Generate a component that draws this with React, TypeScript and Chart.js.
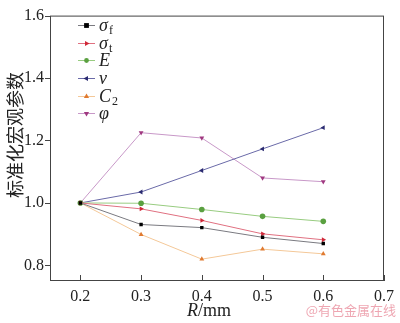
import React, { useEffect, useRef } from "react";
import { Chart, registerables } from "chart.js";

Chart.register(...registerables);

const radii = [0.2, 0.3, 0.4, 0.5, 0.6];
const xTicks = [0.2, 0.3, 0.4, 0.5, 0.6, 0.7];
const yTicks = [0.8, 1.0, 1.2, 1.4, 1.6];

const sigmaF = [1.0, 0.931, 0.921, 0.89, 0.87];
const sigmaT = [1.0, 0.981, 0.944, 0.901, 0.882];
const modulusE = [1.0, 0.999, 0.979, 0.957, 0.941];
const poissonV = [1.0, 1.035, 1.104, 1.173, 1.241];
const cohesionC2 = [1.0, 0.899, 0.82, 0.852, 0.837];
const frictionPhi = [1.0, 1.225, 1.208, 1.08, 1.068];

const seriesNames = ["σf", "σt", "E", "v", "C2", "φ"];

const SERIF = "'Liberation Serif', 'DejaVu Serif', serif";

type SeriesDef = {
  data: number[];
  point: string;
  line: string;
  style: any;
  rotation: number;
  main: string;
  sub: string;
};

const series: SeriesDef[] = [
  { data: sigmaF, point: "#000000", line: "#7a7a80", style: "rect", rotation: 0, main: "σ", sub: "f" },
  { data: sigmaT, point: "#d02838", line: "#e07080", style: "triangle", rotation: 90, main: "σ", sub: "t" },
  { data: modulusE, point: "#5aa040", line: "#98cc80", style: "circle", rotation: 0, main: "E", sub: "" },
  { data: poissonV, point: "#2a2a70", line: "#6a6aa8", style: "triangle", rotation: -90, main: "v", sub: "" },
  { data: cohesionC2, point: "#e07a30", line: "#f4c898", style: "triangle", rotation: 0, main: "C", sub: "2" },
  { data: frictionPhi, point: "#a03880", line: "#c898c8", style: "triangle", rotation: 180, main: "φ", sub: "" },
];

function drawMarker(ctx: CanvasRenderingContext2D, style: string, rotation: number, x: number, y: number) {
  const r = 2.4;
  ctx.save();
  ctx.translate(x, y);
  ctx.rotate((rotation * Math.PI) / 180);
  ctx.beginPath();
  if (style === "rect") {
    ctx.rect(-r, -r, 2 * r, 2 * r);
  } else if (style === "circle") {
    ctx.arc(0, 0, r, 0, Math.PI * 2);
  } else {
    const rr = r * 1.25;
    ctx.moveTo(0, -rr);
    ctx.lineTo(rr * 0.87, rr * 0.5);
    ctx.lineTo(-rr * 0.87, rr * 0.5);
    ctx.closePath();
  }
  ctx.fill();
  ctx.restore();
}

const framePlugin = {
  id: "framePlugin",
  afterDraw(chart: any) {
    const ctx = chart.ctx;
    const { left, right, top, bottom } = chart.chartArea;
    const xs = chart.scales.x;
    const ys = chart.scales.y;
    ctx.save();
    ctx.strokeStyle = "#444";
    ctx.lineWidth = 1;
    ctx.strokeRect(left + 0.5, top + 0.5, right - left - 1, bottom - top - 1);
    ctx.beginPath();
    xTicks.forEach((t) => {
      const px = Math.round(xs.getPixelForValue(t)) + 0.5;
      ctx.moveTo(px, bottom);
      ctx.lineTo(px, bottom - 6);
    });
    yTicks.forEach((t) => {
      const py = Math.round(ys.getPixelForValue(t)) + 0.5;
      ctx.moveTo(left, py);
      ctx.lineTo(left - 5, py);
    });
    ctx.stroke();

    // y title
    ctx.fillStyle = "#222";
    ctx.font = "18px 'Noto Sans CJK SC'";
    ctx.translate(15, 135);
    ctx.rotate(-Math.PI / 2);
    ctx.textAlign = "center";
    ctx.textBaseline = "middle";
    ctx.fillText("标准化宏观参数", 0, 0);
    ctx.setTransform(1, 0, 0, 1, 0, 0);

    // x title
    ctx.textBaseline = "alphabetic";
    ctx.textAlign = "left";
    ctx.font = "italic 18px " + SERIF;
    const rW = ctx.measureText("R").width;
    ctx.font = "18px " + SERIF;
    const mmW = ctx.measureText("/mm").width;
    const cx = (left + right) / 2 - 8;
    const sx = cx - (rW + mmW) / 2;
    ctx.font = "italic 18px " + SERIF;
    ctx.fillText("R", sx, 316);
    ctx.font = "18px " + SERIF;
    ctx.fillText("/mm", sx + rW, 316);

    // watermark
    ctx.fillStyle = "rgba(235,150,165,0.85)";
    ctx.font = "13px 'Noto Sans CJK SC'";
    ctx.textAlign = "right";
    ctx.fillText("@有色金属在线", 396, 315);

    // legend
    const lx0 = 78;
    const lx1 = 95;
    const rowY = [25, 43, 60, 78, 96, 113];
    series.forEach((s, i) => {
      const y = rowY[i];
      ctx.strokeStyle = s.line;
      ctx.lineWidth = 1;
      ctx.beginPath();
      ctx.moveTo(lx0, y + 0.5);
      ctx.lineTo(lx1, y + 0.5);
      ctx.stroke();
      ctx.fillStyle = s.point;
      drawMarker(ctx, s.style, s.rotation, (lx0 + lx1) / 2, y + 0.5);
      ctx.fillStyle = "#222";
      ctx.textAlign = "left";
      ctx.textBaseline = "alphabetic";
      ctx.font = "italic 18px " + SERIF;
      ctx.fillText(s.main, 99, y + 6);
      const w = ctx.measureText(s.main).width;
      if (s.sub) {
        ctx.font = "12px " + SERIF;
        ctx.fillText(s.sub, 99 + w + 1, y + 9);
      }
    });
    ctx.restore();
  },
};

export default function App() {
  const ref = useRef<HTMLCanvasElement | null>(null);
  useEffect(() => {
    document.body.style.margin = "0";
    const canvas = ref.current!;
    const chart = new Chart(canvas, {
      type: "line",
      data: {
        datasets: series.map((s, i) => ({
          label: seriesNames[i],
          data: radii.map((r, j) => ({ x: r, y: s.data[j] })),
          borderColor: s.line,
          backgroundColor: s.point,
          pointBackgroundColor: s.point,
          pointBorderColor: s.point,
          pointStyle: s.style,
          pointRotation: s.rotation,
          pointRadius: s.style === "rect" ? 2.4 : 2.8,
          pointBorderWidth: 0,
          borderWidth: 1,
          tension: 0,
        })),
      },
      options: {
        responsive: false,
        animation: false,
        events: [],
        layout: { padding: { top: 6, right: 9, left: 0, bottom: 0 } },
        plugins: { legend: { display: false }, tooltip: { enabled: false } },
        scales: {
          x: {
            type: "linear",
            min: 0.15,
            max: 0.7,
            afterBuildTicks: (scale: any) => {
              scale.ticks = xTicks.map((v) => ({ value: v }));
            },
            afterFit: (scale: any) => {
              scale.height = 42;
            },
            grid: { display: false, drawTicks: false },
            border: { display: false },
            ticks: {
              color: "#222",
              font: { family: SERIF, size: 16 },
              padding: 6,
              maxRotation: 0,
              callback: (v: any) => Number(v).toFixed(1),
            },
          },
          y: {
            type: "linear",
            min: 0.75,
            max: 1.6,
            afterBuildTicks: (scale: any) => {
              scale.ticks = yTicks.map((v) => ({ value: v }));
            },
            afterFit: (scale: any) => {
              scale.width = 50;
            },
            grid: { display: false, drawTicks: false },
            border: { display: false },
            ticks: {
              color: "#222",
              font: { family: SERIF, size: 16 },
              padding: 6,
              callback: (v: any) => Number(v).toFixed(1),
            },
          },
        },
      },
      plugins: [framePlugin],
    } as any);
    return () => chart.destroy();
  }, []);
  return <canvas ref={ref} width={400} height={323} style={{ display: "block" }} />;
}
